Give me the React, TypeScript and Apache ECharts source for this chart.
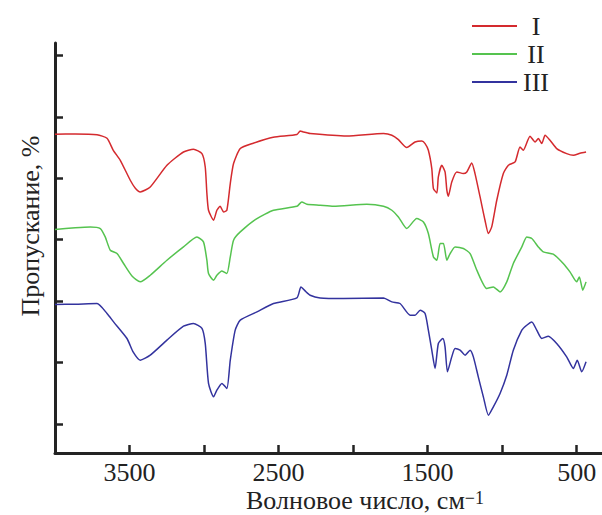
import React, { useEffect, useRef } from "react";
import * as echarts from "echarts";

// Wavenumber (cm^-1) and transmittance (arbitrary %, stacked offsets)
const seriesNames = ["I", "II", "III"];
const seriesColors = ["#d42a2e", "#55c34f", "#33339e"];

const curveI: number[][] = [
  [4000, 57.15], [3864, 57.2], [3718, 57.07], [3651, 56.5], [3609, 54.55], [3562, 52.92],
  [3495, 49.67], [3461, 48.37], [3428, 47.77], [3361, 48.58], [3249, 52.11], [3138, 54.27],
  [3071, 54.71], [3014, 54.01], [2992, 51.83], [2981, 47.56], [2970, 44.79], [2936, 43.17],
  [2914, 44.79], [2892, 45.44], [2869, 44.52], [2847, 44.79], [2824, 49.14], [2802, 52.39],
  [2757, 54.83], [2670, 55.69], [2536, 56.66], [2377, 57.1], [2355, 57.69], [2335, 57.53],
  [2288, 57.27], [2042, 56.87], [1796, 57.27], [1740, 57.0], [1696, 56.29], [1640, 54.99],
  [1584, 55.9], [1539, 56.06], [1517, 55.64], [1495, 54.55], [1472, 51.57], [1461, 48.32],
  [1438, 47.61], [1428, 50.21], [1405, 52.11], [1383, 51.02], [1371, 48.05], [1361, 47.07],
  [1338, 49.4], [1304, 51.02], [1260, 50.76], [1237, 51.02], [1204, 52.49], [1182, 50.76],
  [1148, 46.96], [1115, 43.17], [1092, 41.0], [1070, 42.08], [1036, 46.42], [992, 50.76],
  [958, 52.11], [913, 52.65], [880, 55.09], [858, 54.55], [813, 56.83], [779, 55.9],
  [757, 56.45], [734, 55.64], [712, 56.99], [679, 56.18], [634, 54.83], [567, 54.01],
  [522, 53.74], [478, 54.06], [437, 54.27],
];

const curveII: number[][] = [
  [4000, 41.66], [3864, 41.95], [3763, 42.08], [3696, 41.82], [3663, 40.45], [3629, 38.29],
  [3584, 37.75], [3540, 36.13], [3482, 34.06], [3428, 33.14], [3361, 34.22], [3249, 36.66],
  [3138, 38.83], [3048, 40.45], [3004, 39.64], [2981, 36.66], [2970, 34.5], [2936, 33.41],
  [2914, 34.22], [2880, 34.92], [2847, 34.5], [2824, 37.2], [2802, 39.92], [2757, 41.27],
  [2645, 43.44], [2534, 44.79], [2377, 45.44], [2344, 46.14], [2310, 45.77], [2221, 45.61],
  [2132, 45.44], [1908, 45.77], [1796, 45.44], [1740, 44.79], [1696, 43.7], [1640, 41.82],
  [1573, 43.44], [1528, 42.89], [1495, 41.0], [1461, 37.2], [1438, 36.66], [1416, 39.38],
  [1394, 39.38], [1371, 36.66], [1349, 37.75], [1316, 38.83], [1260, 38.57], [1215, 37.75],
  [1170, 35.04], [1103, 32.06], [1059, 32.32], [1014, 31.51], [969, 33.14], [925, 36.13],
  [868, 38.83], [835, 40.45], [801, 40.19], [757, 38.83], [724, 38.01], [657, 37.64],
  [590, 36.13], [545, 34.76], [500, 33.14], [482, 33.95], [459, 31.79], [437, 33.14],
];

const curveIII: number[][] = [
  [4000, 29.46], [3864, 29.51], [3718, 29.62], [3651, 28.0], [3607, 26.63], [3517, 23.93],
  [3475, 21.7], [3428, 20.4], [3361, 21.22], [3249, 23.66], [3138, 25.93], [3071, 26.37],
  [3014, 25.56], [2992, 23.12], [2970, 16.62], [2936, 14.44], [2914, 15.53], [2880, 16.62],
  [2847, 15.8], [2824, 20.4], [2791, 25.28], [2757, 26.91], [2645, 28.26], [2534, 29.62],
  [2377, 30.53], [2350, 32.32], [2322, 31.67], [2288, 30.97], [2221, 30.53], [2065, 30.44],
  [1796, 30.53], [1740, 29.88], [1685, 29.62], [1617, 27.72], [1584, 27.72], [1550, 28.53],
  [1517, 28.0], [1495, 25.28], [1472, 22.03], [1450, 19.05], [1428, 23.12], [1398, 23.93],
  [1383, 22.57], [1367, 18.5], [1338, 20.94], [1316, 22.31], [1282, 22.03], [1249, 21.22],
  [1215, 22.03], [1193, 20.94], [1160, 17.69], [1126, 14.44], [1092, 11.46], [1059, 12.81],
  [1014, 14.99], [969, 17.96], [925, 22.03], [868, 25.28], [835, 26.09], [801, 26.63],
  [768, 25.28], [734, 23.93], [690, 24.31], [634, 23.12], [567, 20.94], [522, 19.05],
  [496, 20.4], [466, 18.5], [437, 20.13],
];

const curves = [curveI, curveII, curveIII];

const xTickValues = [3500, 3000, 2500, 2000, 1500, 1000, 500];
const xLabelValues = [3500, 2500, 1500, 500];
const yTickValues = [10, 20, 30, 40, 50, 60, 70];

const xTitle = "Волновое число, см";
const xTitleSup = "−1";
const yTitle = "Пропускание, %";

const FONT = "Liberation Serif";
const AXIS_COLOR = "#232323";
const TEXT_COLOR = "#222222";

export default function App() {
  const ref = useRef<HTMLDivElement>(null);

  useEffect(() => {
    if (!ref.current) return;
    const chart = echarts.init(ref.current, undefined, { renderer: "svg" });
    chart.setOption({
      animation: false,
      backgroundColor: "#ffffff",
      textStyle: { fontFamily: FONT },
      grid: { left: 55, top: 43, right: 0, bottom: 62, containLabel: false, outerBoundsMode: "none" },
      legend: {
        orient: "vertical",
        right: 47,
        top: 8,
        itemWidth: 45,
        itemHeight: 2,
        itemGap: 2,
        icon: "rect",
        data: seriesNames.map((n, i) => ({
          name: n,
          itemStyle: { color: seriesColors[i] },
        })),
        formatter: (name: string) => "{c|" + name + "}",
        textStyle: {
          fontFamily: FONT,
          fontSize: 26,
          color: TEXT_COLOR,
          rich: {
            c: { width: 28, align: "center", fontFamily: FONT, fontSize: 26, lineHeight: 26, color: TEXT_COLOR },
          },
        },
      },
      xAxis: {
        type: "value",
        inverse: true,
        min: 330,
        max: 4000,
        axisLine: { show: true, onZero: false, lineStyle: { color: AXIS_COLOR, width: 3 } },
        axisTick: {
          show: true,
          inside: true,
          length: 8,
          customValues: xTickValues,
          lineStyle: { color: AXIS_COLOR, width: 2.5 },
        },
        axisLabel: {
          show: true,
          customValues: xLabelValues,
          formatter: (v: number) => String(v),
          fontFamily: FONT,
          fontSize: 26,
          color: TEXT_COLOR,
          margin: 6,
        },
        splitLine: { show: false },
      },
      yAxis: {
        type: "value",
        min: 5.3,
        max: 72,
        axisLine: { show: true, onZero: false, lineStyle: { color: AXIS_COLOR, width: 3 } },
        axisTick: {
          show: true,
          inside: true,
          length: 8,
          customValues: yTickValues,
          lineStyle: { color: AXIS_COLOR, width: 2.5 },
        },
        axisLabel: { show: false },
        splitLine: { show: false },
      },
      graphic: [
        {
          type: "text",
          x: 365,
          y: 501,
          style: {
            text: "{a|" + xTitle + "}{b|" + xTitleSup + "}",
            align: "center",
            verticalAlign: "middle",
            rich: {
              a: { fontFamily: FONT, fontSize: 26, lineHeight: 24, fill: TEXT_COLOR, verticalAlign: "bottom" },
              b: { fontFamily: FONT, fontSize: 18, lineHeight: 24, fill: TEXT_COLOR, verticalAlign: "top" },
            },
          },
        },
        {
          type: "text",
          x: 30,
          y: 226,
          rotation: Math.PI / 2,
          style: {
            text: yTitle,
            fontFamily: FONT,
            fontSize: 26,
            fill: TEXT_COLOR,
            align: "center",
            verticalAlign: "middle",
          },
        },
      ],
      series: curves.map((d, i) => ({
        name: seriesNames[i],
        type: "line",
        data: d,
        showSymbol: false,
        symbol: "none",
        smooth: 0.2,
        lineStyle: { color: seriesColors[i], width: 1.5 },
        itemStyle: { color: seriesColors[i] },
      })),
    });
    return () => chart.dispose();
  }, []);

  return (
    <div
      ref={ref}
      style={{ position: "fixed", left: 0, top: 0, width: 602, height: 515, background: "#fff" }}
    />
  );
}
